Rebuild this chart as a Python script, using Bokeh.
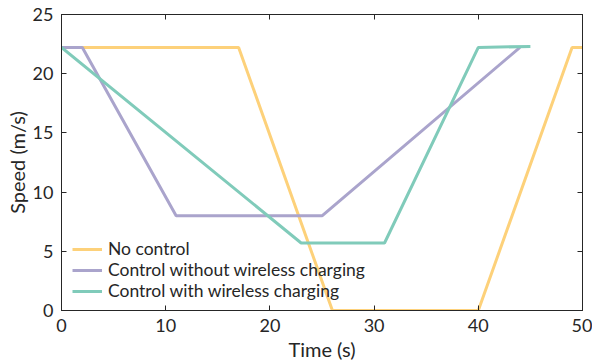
from bokeh.plotting import figure
from bokeh.models import LinearAxis, Range1d, FixedTicker, Legend, LegendItem, CustomLabelingPolicy
from bokeh.embed import file_html
from bokeh.resources import INLINE

# Data (time in s, speed in m/s)
no_ctrl_t = [0, 17, 26, 40, 49, 50]
no_ctrl_v = [22.22, 22.22, 0, 0, 22.22, 22.22]

wo_t = [0, 2, 11, 25, 44]
wo_v = [22.22, 22.22, 8, 8, 22.22]

w_t = [0, 23, 31, 40, 45]
w_v = [22.22, 5.7, 5.7, 22.22, 22.3]

x_ticks = [0, 10, 20, 30, 40, 50]
y_ticks = [0, 5, 10, 15, 20, 25]

labels = ["No control", "Control without wireless charging", "Control with wireless charging"]
colors = ["#FDD17A", "#AAA4CC", "#80CBBA"]

FONT = "Lato"
AX = "#262626"

p = figure(width=592, height=364, output_backend="svg", toolbar_location=None,
           x_range=Range1d(0, 50), y_range=Range1d(0, 25),
           min_border_left=61, min_border_right=10, min_border_top=14, min_border_bottom=54,
           x_axis_label="Time (s)", y_axis_label="Speed (m/s)")
p.grid.visible = False
p.outline_line_color = AX
p.outline_line_width = 1

def style(ax, labels_on=True):
    ax.axis_line_color = AX
    ax.axis_line_width = 1
    ax.major_tick_in = 5
    ax.major_tick_out = 0
    ax.minor_tick_line_color = None
    ax.major_tick_line_color = AX
    ax.major_tick_line_width = 1
    ax.major_label_text_font = FONT
    ax.major_label_text_color = AX
    ax.axis_label_text_font = FONT
    ax.axis_label_text_color = AX
    ax.axis_label_text_font_style = "normal"
    ax.axis_label_text_font_size = "20px"
    ax.major_label_text_font_size = "18px"
    if not labels_on:
        ax.major_label_text_font_size = "1px"
        ax.major_label_standoff = 0
        ax.major_label_policy = CustomLabelingPolicy(code="for (const i of indices) indices.unset(i)")

style(p.xaxis[0])
style(p.yaxis[0])
p.xaxis[0].ticker = FixedTicker(ticks=x_ticks)
p.yaxis[0].ticker = FixedTicker(ticks=y_ticks)
p.xaxis[0].major_label_standoff = 8
p.yaxis[0].major_label_standoff = 8
p.xaxis[0].axis_label_standoff = 2
p.yaxis[0].axis_label_standoff = 1

top = LinearAxis(ticker=FixedTicker(ticks=x_ticks))
style(top, False)
p.add_layout(top, "above")
right = LinearAxis(ticker=FixedTicker(ticks=y_ticks))
style(right, False)
p.add_layout(right, "right")

r1 = p.line(no_ctrl_t, no_ctrl_v, line_color=colors[0], line_width=3)
r2 = p.line(wo_t, wo_v, line_color=colors[1], line_width=3)
r3 = p.line(w_t, w_v, line_color=colors[2], line_width=3)

legend = Legend(items=[LegendItem(label=labels[0], renderers=[r1]),
                       LegendItem(label=labels[1], renderers=[r2]),
                       LegendItem(label=labels[2], renderers=[r3])],
                location=(11, 9), margin=0, padding=0,
                border_line_color=None, background_fill_alpha=0,
                glyph_width=30, glyph_height=20, label_height=20, spacing=0,
                label_standoff=6, label_text_font=FONT, label_text_font_size="17.5px",
                label_text_color=AX)
p.add_layout(legend, "center")

open("out.html", "w").write(file_html(p, INLINE))
